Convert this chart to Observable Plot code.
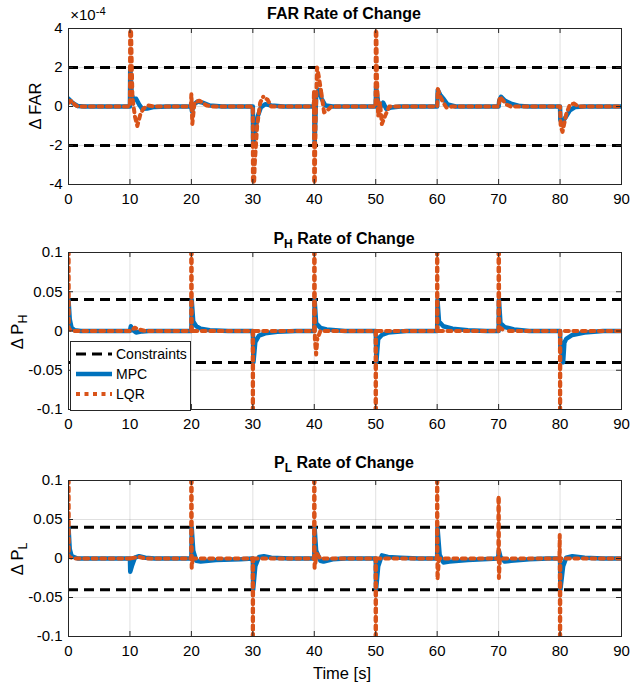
<!DOCTYPE html>
<html><head><meta charset="utf-8">
<script src="https://cdn.jsdelivr.net/npm/d3@7"></script>
<script src="https://cdn.jsdelivr.net/npm/@observablehq/plot@0.6"></script>
<style>
body{margin:0;background:#fff;font-family:"Liberation Sans",Arial,Helvetica,sans-serif;}
#chart{position:relative;width:630px;height:684px;overflow:hidden;background:#fff;}
#chart svg{position:absolute;left:0;}
.t{position:absolute;white-space:nowrap;color:#000;line-height:1;transform:translate(-50%,-50%);}
.title{font-weight:bold;font-size:16px;}
.ylab{font-size:16.5px;transform:translate(-50%,-50%) rotate(-90deg);}
.sub{font-size:0.75em;position:relative;top:0.3em;}
.sup{font-size:0.75em;position:relative;top:-0.45em;}
#legend{position:absolute;left:70px;top:341px;width:121px;height:70px;background:#fff;border:1px solid #262626;box-sizing:border-box;font-size:14px;}
#legend .row{position:absolute;left:4px;height:20px;display:flex;align-items:center;}
#legend svg{position:static;}
</style></head><body><div id="chart"></div>
<script>
// ---------- shared axis values ----------
const timeTicks = [0, 10, 20, 30, 40, 50, 60, 70, 80, 90];
const farTicks = [-4, -2, 0, 2, 4];           // units of 1e-4
const pTicks = [-0.1, -0.05, 0, 0.05, 0.1];
const farConstraints = [2, -2];                // units of 1e-4
const pConstraints = [0.04, -0.04];
const seriesNames = ["Constraints", "MPC", "LQR"];

// ---------- FAR rate of change (x 1e-4) ----------
const farMpcT = [0, 0.3, 0.8, 1.5, 2.5, 10, 10.05, 10.3, 10.6, 11.0, 11.5, 12.0, 12.8, 14, 16,
  20, 20.1, 20.4, 21.0, 21.8, 23, 25, 30, 30.05, 30.4, 30.8, 31.3, 32, 33, 35,
  40, 40.05, 40.3, 40.7, 41.2, 41.8, 43, 50, 50.05, 50.4, 50.8, 51.2, 51.7, 52.5, 54,
  60, 60.1, 60.5, 61, 61.7, 63, 70, 70.1, 70.4, 71, 72, 73.5, 75,
  80, 80.05, 80.5, 81, 81.6, 82.5, 84, 90];
const farMpcV = [0.4, 0.3, 0.15, 0.03, 0, 0, 2.0, 0.6, 0.35, 0.4, 0.1, -0.12, -0.1, -0.02, 0,
  0, -0.25, 0.1, 0.25, 0.2, 0.05, 0, 0, -2.0, -1.2, -0.5, -0.05, 0.12, 0.05, 0,
  0, -2.0, 0.5, 0.85, 0.4, 0.05, 0, 0, 1.0, 0.2, 0.0, 0.2, -0.12, -0.05, 0,
  0, 0.85, 0.6, 0.4, 0.1, 0, 0, 0.3, 0.5, 0.3, 0.15, 0.02, 0,
  0, -0.7, -0.75, -0.5, -0.2, -0.02, 0, 0];
const farLqrT = [0, 0.15, 0.5, 1.0, 1.5, 10, 10.05, 10.4, 10.8, 11.2, 11.7, 12.2, 13, 14,
  19.9, 20.0, 20.15, 20.5, 21.3, 22.5, 23.5, 30, 30.02, 30.3, 30.7, 31.2, 31.7, 32.4, 33,
  39.9, 39.95, 40.0, 40.2, 40.45, 40.7, 41.1, 41.6, 42.1, 42.8,
  49.98, 50.02, 50.2, 50.4, 50.7, 51.0, 51.5, 52.2, 53,
  60, 60.1, 60.5, 61, 61.5, 62.5, 70, 70.2, 70.6, 71.3, 72,
  80, 80.1, 80.4, 81, 81.6, 82.3, 83, 90];
const farLqrV = [0.5, 0.2, 0.3, 0.1, 0, 0, 6, 0.5, -0.5, -1.0, -0.4, -0.1, 0.05, 0,
  0, 0.65, -0.9, 0.2, 0.3, 0.05, 0, 0, -6, -3, -1.0, 0.2, 0.5, 0.35, 0,
  0, 0.8, -6, -1, 2.0, 1.6, 0.8, -0.3, -0.2, 0,
  0, 6, 1.5, -0.5, 0.2, -0.9, -0.5, 0.0, 0,
  0, 0.9, 0.5, 0.2, -0.05, 0, 0, 0.5, 0.35, 0.1, 0,
  0, -1.0, -1.3, -0.4, 0.1, 0.15, 0, 0];

// ---------- P_H rate of change ----------
const phMpcT = [0, 0.2, 0.5, 1, 2, 10, 10.15, 10.5, 11, 12, 13,
  20, 20.05, 20.3, 20.8, 21.5, 23, 26, 30, 30.1, 30.4, 31, 32, 34, 37,
  40, 40.05, 40.3, 41, 42, 45, 50, 50.1, 50.4, 51, 52, 55,
  60, 60.05, 60.3, 61, 62.5, 65, 68, 70, 70.05, 70.3, 71, 72.5, 75,
  80, 80.05, 80.5, 80.7, 81, 82, 84, 87, 90];
const phMpcV = [0.04, 0.015, 0.004, 0.001, 0, 0, 0.006, 0.001, -0.002, -0.0005, 0,
  0, 0.04, 0.012, 0.006, 0.003, 0.001, 0, 0, -0.04, -0.014, -0.006, -0.003, -0.001, 0,
  0, 0.04, 0.01, 0.004, 0.002, 0, 0, -0.04, -0.01, -0.005, -0.002, 0,
  0, 0.04, 0.012, 0.006, 0.003, 0.001, 0, 0, 0.04, 0.01, 0.005, 0.002, 0,
  0, -0.02, -0.04, -0.015, -0.01, -0.005, -0.002, 0, 0];
const phLqrT = [0, 0.05, 1, 10, 10.8, 11.5, 12.5, 19.98, 20.0, 20.05, 29.98, 30.0, 30.05,
  39.98, 40.0, 40.1, 40.3, 40.5, 41, 49.98, 50.0, 50.05, 59.98, 60.0, 60.05,
  69.98, 70.0, 70.1, 71, 79.98, 80.0, 80.05, 90];
const phLqrV = [0.2, 0.002, 0, 0, 0.004, 0.002, 0, 0, 0.2, 0, 0, -0.2, 0,
  0, 0.2, -0.01, -0.03, -0.01, 0, 0, -0.2, 0, 0, 0.2, 0,
  0, 0.2, 0.005, 0, 0, -0.2, 0, 0];

// ---------- P_L rate of change ----------
const plMpcT = [0, 0.2, 0.5, 1.5, 10, 10.05, 10.3, 10.8, 11.5, 12.5, 14,
  20, 20.05, 20.3, 20.8, 21.5, 24, 28, 30, 30.05, 30.4, 31, 31.8, 33, 36,
  40, 40.05, 40.3, 41, 41.5, 43, 45, 50, 50.05, 50.4, 51, 52, 54, 57,
  60, 60.05, 60.4, 61, 62, 65, 69.9, 70.05, 70.3, 71, 72, 75, 78,
  80, 80.05, 80.5, 81, 82, 84, 87, 90];
const plMpcV = [0.04, 0.012, 0.003, 0, 0, -0.017, -0.01, 0.001, 0.003, 0.001, 0,
  0, 0.04, 0.01, -0.003, -0.004, -0.002, -0.001, 0, -0.04, -0.01, 0.002, 0.003, 0.001, 0,
  0, 0.04, 0.01, -0.003, -0.004, -0.001, 0, 0, -0.04, -0.01, 0.004, 0.002, 0.001, 0,
  0, 0.04, 0.005, -0.005, -0.004, -0.002, 0, 0.01, 0.002, -0.004, -0.003, -0.001, 0,
  0, -0.04, -0.01, 0.001, 0.003, 0.001, 0, 0];
const plLqrT = [0, 0.05, 1, 10, 11.5, 12.5, 19.98, 20.0, 20.05, 20.2, 29.98, 30.0, 30.05,
  39.98, 40.0, 40.05, 40.4, 41, 49.98, 50.0, 50.05, 59.98, 60.0, 60.05, 60.3,
  69.98, 70.0, 70.05, 70.2, 79.9, 79.95, 80.0, 80.05, 90];
const plLqrV = [0.2, 0.002, 0, 0, 0.002, 0, 0, 0.2, -0.012, 0, 0, -0.2, 0,
  0, 0.2, -0.012, 0.006, 0, 0, -0.2, 0, 0, 0.2, -0.027, 0,
  0, 0.078, -0.025, 0, 0, 0.03, -0.2, 0, 0];

// ---------- drawing ----------
const FONT = '"Liberation Sans", Arial, Helvetica, sans-serif';
const BLUE = "#0072BD", ORANGE = "#D95319", AXC = "#262626";
const zip = (t, v) => t.map((x, i) => ({t: x, v: v[i], g: 0}));
const fmt = d => String(d);

// Split a dotted series into pieces that each begin at an off-axis peak, so the
// rising and falling strokes of a clipped spike share the same dot phase (as in MATLAB).
function dottedPieces(t, v, lim) {
  const pk = v.map((y, i) => Math.abs(y) > lim ? i : -1).filter(i => i >= 0);
  const rows = [];
  let g = 0;
  const push = (from, to, reverse) => {
    const idx = d3.range(from, to + 1);
    if (reverse) idx.reverse();
    idx.forEach(i => rows.push({t: t[i], v: v[i], g}));
    g++;
  };
  if (!pk.length) { push(0, t.length - 1, false); return rows; }
  if (pk[0] > 0) push(0, pk[0], true);
  for (let k = 0; k < pk.length - 1; k++) {
    const a = pk[k], b = pk[k + 1];
    if (b - a <= 1) { push(a, b, false); continue; }
    const m = Math.floor((a + b) / 2) === a ? a + 1 : Math.floor((a + b) / 2);
    push(a, m, false);
    push(m, b, true);
  }
  push(pk[pk.length - 1], t.length - 1, false);
  return rows;
}

function panel({top, height, mt, mb, domain, ticks, cons, mpc, lqr}) {
  const ml = 68, mr = 9, width = 630;
  const iw = width - ml - mr, ih = height - mt - mb;
  const svg = Plot.plot({
    width, height, marginTop: mt, marginBottom: mb, marginLeft: ml, marginRight: mr,
    style: {fontFamily: FONT, fontSize: "15px", color: "#000", background: "transparent", overflow: "visible"},
    x: {domain: [0, 90]},
    y: {domain},
    marks: [
      Plot.gridX(timeTicks, {x: d => d, stroke: "#000", strokeOpacity: 0.12, strokeWidth: 1}),
      Plot.gridY(ticks, {y: d => d, stroke: "#000", strokeOpacity: 0.12, strokeWidth: 1}),
      Plot.ruleY(cons, {y: d => d, stroke: "#000", strokeWidth: 3, strokeDasharray: "10,6"}),
      Plot.line(mpc, {x: "t", y: "v", stroke: BLUE, strokeWidth: 4.5, clip: true, curve: "linear"}),
      Plot.line(lqr, {x: "t", y: "v", z: "g", stroke: ORANGE, strokeWidth: 4, strokeDasharray: "4,4.5", clip: true, curve: "linear"}),
      Plot.tickX(timeTicks, {x: d => d, stroke: AXC, insetTop: ih - 5}),
      Plot.tickX(timeTicks, {x: d => d, stroke: AXC, insetBottom: ih - 5}),
      Plot.tickY(ticks, {y: d => d, stroke: AXC, insetRight: iw - 5}),
      Plot.tickY(ticks, {y: d => d, stroke: AXC, insetLeft: iw - 5}),
      Plot.frame({stroke: AXC, strokeWidth: 1}),
      Plot.axisX({ticks: timeTicks, tickSize: 0, tickPadding: 9, tickFormat: fmt, label: null, fill: "#000"}),
      Plot.axisY({ticks, tickSize: 0, tickPadding: 6, tickFormat: fmt, label: null, fill: "#000"})
    ]
  });
  svg.style.top = top + "px";
  return svg;
}

const chart = document.getElementById("chart");
chart.appendChild(panel({top: 0, height: 210, mt: 28, mb: 26, domain: [-4, 4], ticks: farTicks,
  cons: farConstraints, mpc: zip(farMpcT, farMpcV), lqr: dottedPieces(farLqrT, farLqrV, 4)}));
chart.appendChild(panel({top: 210, height: 224, mt: 42, mb: 25, domain: [-0.1, 0.1], ticks: pTicks,
  cons: pConstraints, mpc: zip(phMpcT, phMpcV), lqr: dottedPieces(phLqrT, phLqrV, 0.1)}));
chart.appendChild(panel({top: 434, height: 250, mt: 46, mb: 48, domain: [-0.1, 0.1], ticks: pTicks,
  cons: pConstraints, mpc: zip(plMpcT, plMpcV), lqr: dottedPieces(plLqrT, plLqrV, 0.1)}));

function label(html, x, y, cls) {
  const d = document.createElement("div");
  d.className = "t " + cls;
  d.innerHTML = html;
  d.style.left = x + "px";
  d.style.top = y + "px";
  chart.appendChild(d);
  return d;
}
label("FAR Rate of Change", 344, 14, "title");
label('P<span class="sub">H</span> Rate of Change', 344, 239, "title");
label('P<span class="sub">L</span> Rate of Change', 344, 463, "title");
label("&#916; FAR", 35, 106, "ylab");
label('&#916; P<span class="sub">H</span>', 17, 332, "ylab");
label('&#916; P<span class="sub">L</span>', 17, 559, "ylab");
label("Time [s]", 342, 673, "xl").style.fontSize = "16.5px";
label('&#215;10<span class="sup">-4</span>', 88, 15, "mult").style.fontSize = "15px";

// legend
const lg = document.createElement("div");
lg.id = "legend";
const styles = [
  {stroke: "#000", w: 3, dash: "10,6"},
  {stroke: BLUE, w: 4.5, dash: null},
  {stroke: ORANGE, w: 4, dash: "4,4.5"}
];
seriesNames.forEach((name, i) => {
  const row = document.createElement("div");
  row.className = "row";
  row.style.top = (2 + i * 20) + "px";
  const s = styles[i];
  row.innerHTML = `<svg width="38" height="20"><line x1="1" x2="37" y1="10" y2="10" stroke="${s.stroke}" stroke-width="${s.w}" ${s.dash ? `stroke-dasharray="${s.dash}"` : ""}/></svg><span style="margin-left:3px">${name}</span>`;
  lg.appendChild(row);
});
chart.appendChild(lg);
</script></body></html>
